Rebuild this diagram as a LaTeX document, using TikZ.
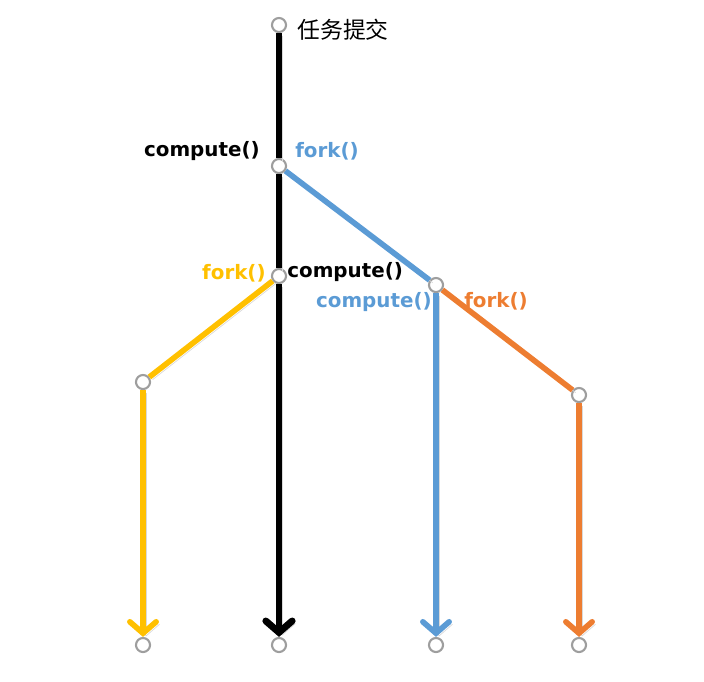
\documentclass[tikz,border=0pt]{standalone}
\usepackage{fontspec}
\setsansfont{DejaVu Sans}
\newfontfamily\cjk{Noto Sans CJK SC}
\usetikzlibrary{arrows.meta}
\definecolor{forkblue}{HTML}{5B9BD5}
\definecolor{forkorange}{HTML}{ED7D31}
\definecolor{forkyellow}{HTML}{FFC000}
\tikzset{
  pt/.style={circle, draw=black!38, fill=white, line width=1.2pt, minimum size=8pt, inner sep=0pt},
  lbl/.style={font=\sffamily\bfseries\fontsize{11.3}{13}\selectfont, inner sep=0pt},
  shade line/.style={preaction={draw=black!15, transform canvas={shift={(1.8pt,-1.5pt)}}}},
  blk/.style={shade line, draw=black, line width=3.9pt},
  clr/.style={shade line, draw=#1, line width=3.2pt},
  arr/.style={-{Straight Barb[length=6.5pt,width=15pt,line cap=round]}}
}

\begin{document}
\begin{tikzpicture}[x=0.02cm, y=-0.02cm]
  %%%%% START %%%%%
  \useasboundingbox (0,0) rectangle (704,681);

  % points
  \node[pt] (start) at (279,25) {};
  \node[pt] (a) at (279,166) {};
  \node[pt] (b) at (279,276) {};
  \node[pt] (c) at (436,285) {};
  \node[pt] (d) at (143,382) {};
  \node[pt] (e) at (579,395) {};

  \node[pt] (endY) at (143,645) {};
  \node[pt] (endK) at (279,645) {};
  \node[pt] (endB) at (436,645) {};
  \node[pt] (endO) at (579,645) {};

  % lines
  \draw[blk] (start) -- (a);
  \draw[blk] (a) -- (b);
  \draw[blk, arr] (b) -- (endK);

  \draw[clr=forkblue] (a) -- (c);
  \draw[clr=forkblue, arr] (c) -- (endB);

  \draw[clr=forkyellow] (b) -- (d);
  \draw[clr=forkyellow, arr] (d) -- (endY);

  \draw[clr=forkorange] (c) -- (e);
  \draw[clr=forkorange, arr] (e) -- (endO);

  % labels
  \node[anchor=west, font=\cjk\fontsize{13}{15}\selectfont, inner sep=0pt] (submit) at (297,30) {任务提交};

  \node[lbl, anchor=east] (comp1) at (260,151) {compute()};
  \node[lbl, anchor=west, text=forkblue] (fork1) at (295,151) {fork()};

  \node[lbl, anchor=east, text=forkyellow] (fork2) at (266,273) {fork()};
  \node[lbl, anchor=west] (comp2) at (287,272) {compute()};

  \node[lbl, anchor=east, text=forkblue] (comp3) at (432,302) {compute()};
  \node[lbl, anchor=west, text=forkorange] (fork3) at (464,301) {fork()};

  %%%%% END %%%%%
\end{tikzpicture}
\end{document}
